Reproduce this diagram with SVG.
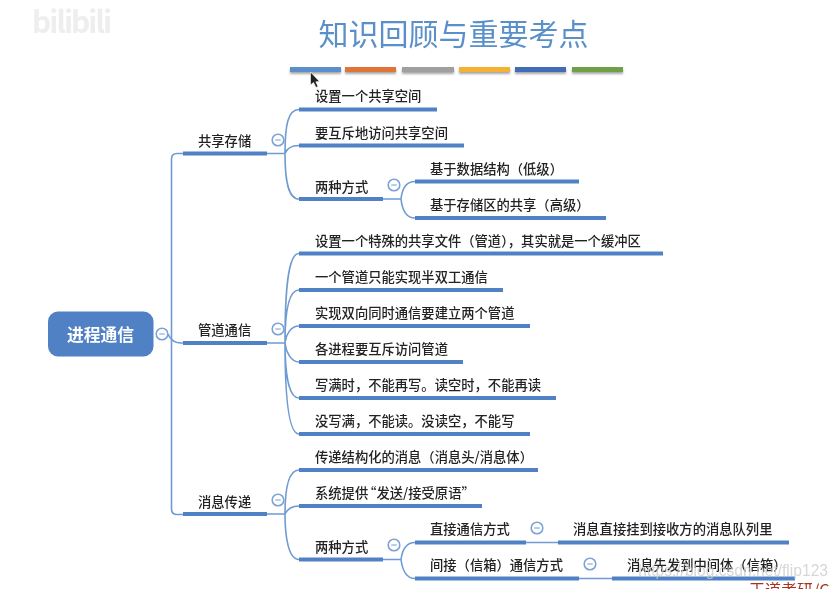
<svg xmlns="http://www.w3.org/2000/svg" width="837" height="589" viewBox="0 0 837 589">
<style>
text{font-family:"Noto Sans CJK SC","Liberation Sans",sans-serif}
.t{font-size:13.3px;fill:#222;font-weight:500}
.u{stroke:#4f81c4;stroke-width:4;fill:none}
.c{stroke:#6f9bd2;stroke-width:1.6;fill:none}
.k{fill:#fff;stroke:#7ba2d6;stroke-width:1.6}
.m{stroke:#9db9de;stroke-width:1.4}
.b{filter:url(#s)}
</style>
<defs>
<filter id="s" x="-5%" y="-50%" width="110%" height="250%"><feDropShadow dx="0" dy="2" stdDeviation="1.2" flood-color="#000" flood-opacity=".35"/></filter>
<filter id="soft" x="0" y="0" width="100%" height="100%"><feGaussianBlur stdDeviation="0.4"/></filter>
<g id="minus"><circle class="k" r="5.8"/><line class="m" x1="-2.8" x2="2.8"/></g>
</defs>
<rect width="837" height="589" fill="#fff"/>
<g filter="url(#soft)">
<text x="32" y="33" font-size="30" font-weight="700" fill="#eeeeee" textLength="80">bilibili</text>
<text x="453.500" y="45" text-anchor="middle" font-size="30" fill="#5a90c9" id="title">知识回顾与重要考点</text>
<g id="bars">
<rect class="b" x="290" y="67" width="51" height="5" fill="#5a8fcb"/>
<rect class="b" x="345" y="67" width="51" height="5" fill="#df7537"/>
<rect class="b" x="402" y="67" width="52" height="5" fill="#a0a0a0"/>
<rect class="b" x="459" y="67" width="51" height="5" fill="#f5b233"/>
<rect class="b" x="515" y="67" width="51" height="5" fill="#3f6db5"/>
<rect class="b" x="572" y="67" width="51" height="5" fill="#6ea044"/>
</g>
<g id="connectors">
<path class="c" d="M183 153.500H177Q171.500 153.500 171.500 159V509Q171.500 514.500 177 514.500H183"/>
<path class="c" d="M168 334Q172 343 181 343H183"/>
<path class="c" d="M267 153.500H285C285 125 288 109.500 299 109.500M285 153.500C287 148 291 145.500 299 145.500M285 153.500C285 180 288 199 299 199"/>
<path class="c" d="M383 199H401C402 190 405 181.500 415 181.500M401 199C402 208 405 218 415 218"/>
<path class="c" d="M267 343H285C285 290 288 253.500 299 253.500M285 343C285 315 288 290 299 290M285 343C286 334 291 326 299 326M285 343C286 352 291 362 299 362M285 343C285 370 288 398 299 398M285 343C285 390 288 434 299 434"/>
<path class="c" d="M267 514H285C285 490 288 470 299 470M285 514C287 510 291 506 299 506M285 514C285 535 288 559.500 299 559.500"/>
<path class="c" d="M383 559.500H401C402 552 405 542.500 415 542.500M401 559.500C402 567 405 578.500 415 578.500"/>
<path class="c" d="M526 542.500H558M579 578.500H612"/>
</g>
<g id="root"><rect x="48" y="311.500" width="105.500" height="45" rx="10" fill="#4f81c4"/><text x="100.500" y="341" text-anchor="middle" font-size="16.800" font-weight="700" fill="#fff">进程通信</text><use href="#minus" x="162" y="334"/></g>
<g id="n1"><path class="u" d="M183 153.500H267"/><text class="t" x="198" y="146">共享存储</text><use href="#minus" x="278" y="140"/></g>
<g id="n1a"><path class="u" d="M299 109.500H437"/><text class="t" x="315" y="101">设置一个共享空间</text></g>
<g id="n1b"><path class="u" d="M299 145.500H464"/><text class="t" x="315" y="138">要互斥地访问共享空间</text></g>
<g id="n1c"><path class="u" d="M299 199H383"/><text class="t" x="315" y="192">两种方式</text><use href="#minus" x="394" y="185"/></g>
<g id="n1c1"><path class="u" d="M415 181.500H579"/><text class="t" x="430" y="174">基于数据结构&#xFF08;低级&#xFF09;</text></g>
<g id="n1c2"><path class="u" d="M415 218H606"/><text class="t" x="430" y="210">基于存储区的共享&#xFF08;高级&#xFF09;</text></g>
<g id="n2"><path class="u" d="M183 343H267"/><text class="t" x="198" y="335">管道通信</text><use href="#minus" x="278" y="329"/></g>
<g id="n2a"><path class="u" d="M299 253.500H663"/><text class="t" x="315" y="246">设置一个特殊的共享文件&#xFF08;管道&#xFF09;&#xFF0C;其实就是一个缓冲区</text></g>
<g id="n2b"><path class="u" d="M299 290H503"/><text class="t" x="315" y="282">一个管道只能实现半双工通信</text></g>
<g id="n2c"><path class="u" d="M299 326H530"/><text class="t" x="315" y="318">实现双向同时通信要建立两个管道</text></g>
<g id="n2d"><path class="u" d="M299 362H463"/><text class="t" x="315" y="354">各进程要互斥访问管道</text></g>
<g id="n2e"><path class="u" d="M299 398H556"/><text class="t" x="315" y="390">写满时&#xFF0C;不能再写。读空时&#xFF0C;不能再读</text></g>
<g id="n2f"><path class="u" d="M299 434H530"/><text class="t" x="315" y="426">没写满&#xFF0C;不能读。没读空&#xFF0C;不能写</text></g>
<g id="n3"><path class="u" d="M183 514H267"/><text class="t" x="198" y="507">消息传递</text><use href="#minus" x="278" y="500"/></g>
<g id="n3a"><path class="u" d="M299 470H538"/><text class="t" x="315" y="462">传递结构化的消息&#xFF08;消息头/消息体&#xFF09;</text></g>
<g id="n3b"><path class="u" d="M299 506H482"/><text class="t" x="315" y="498">系统提供<tspan dx="-5">“</tspan>发送/接受原语”</text></g>
<g id="n3c"><path class="u" d="M299 559.500H383"/><text class="t" x="315" y="552">两种方式</text><use href="#minus" x="394" y="545"/></g>
<g id="n3c1"><path class="u" d="M415 542.500H526"/><text class="t" x="430" y="534">直接通信方式</text><use href="#minus" x="537" y="528"/></g>
<g id="n3c1a"><path class="u" d="M558 542.500H789"/><text class="t" x="573" y="534">消息直接挂到接收方的消息队列里</text></g>
<g id="n3c2"><path class="u" d="M415 578.500H579"/><text class="t" x="430" y="570">间接&#xFF08;信箱&#xFF09;通信方式</text><use href="#minus" x="590" y="564"/></g>
<g id="n3c2a"><path class="u" d="M612 578.500H795"/><text class="t" x="627" y="570">消息先发到中间体&#xFF08;信箱&#xFF09;</text></g>
<path id="cursor" d="M310.500 72V85L313.500 82.500L316 87.500L318 86.500L315.800 81.800L319.500 81.500Z" fill="#222" stroke="#fff" stroke-width=".6"/>
<text x="828" y="576" text-anchor="end" font-size="15.600" fill="#c9c9c9" fill-opacity=".75" style="font-family:'Liberation Sans',sans-serif">https://blog.csdn.net/flip123</text>
<text x="749" y="596" font-size="16" fill="#a8321e">王道考研/C</text>
</g>
</svg>
